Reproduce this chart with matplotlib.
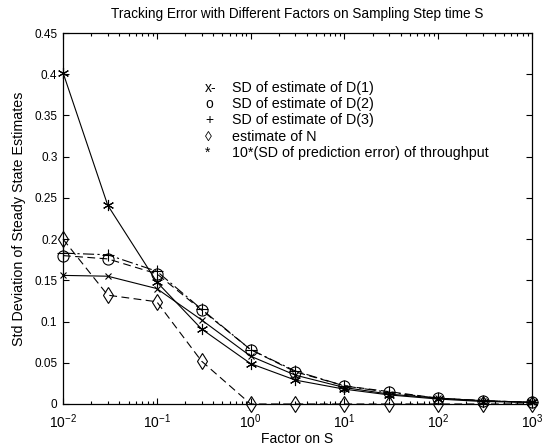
import matplotlib
matplotlib.use("Agg")
import matplotlib.pyplot as plt
from matplotlib.ticker import FixedLocator, LogLocator, NullFormatter

plt.rcParams['font.family'] = ['Liberation Sans', 'DejaVu Sans']
plt.rcParams['mathtext.fontset'] = 'custom'
plt.rcParams['mathtext.rm'] = 'Liberation Sans'
plt.rcParams['mathtext.it'] = 'Liberation Sans'
plt.rcParams['mathtext.bf'] = 'Liberation Sans'

factors = [0.01, 0.03, 0.1, 0.3, 1, 3, 10, 30, 100, 300, 1000]
sd_d1 = [0.156, 0.155, 0.140, 0.102, 0.058, 0.035, 0.020, 0.012, 0.007, 0.004, 0.002]
sd_d2 = [0.180, 0.176, 0.158, 0.114, 0.066, 0.039, 0.022, 0.015, 0.007, 0.004, 0.002]
sd_d3 = [0.183, 0.181, 0.161, 0.115, 0.066, 0.040, 0.022, 0.014, 0.007, 0.004, 0.002]
est_n = [0.200, 0.132, 0.124, 0.052, 0.0, 0.0, 0.0, 0.0, 0.0, 0.0, 0.0]
sd_thr = [0.402, 0.241, 0.148, 0.091, 0.049, 0.029, 0.018, 0.011, 0.006, 0.003, 0.002]

legend_markers = ['x-', 'o', '+', '\u25ca', '*']
legend_texts = ['SD of estimate of D(1)', 'SD of estimate of D(2)', 'SD of estimate of D(3)',
                'estimate of N', '10*(SD of prediction error) of throughput']

fig = plt.figure(figsize=(5.46, 4.47), dpi=100)
ax = fig.add_axes([63/546, 1-404/447, (532-63)/546, (404-33)/447])

kw = dict(color='black', lw=0.8, mfc='none', mec='black', mew=0.8, clip_on=False)
ax.plot(factors, sd_d1, linestyle='-', marker='x', ms=5, **kw)
ax.plot(factors, sd_d2, linestyle=(0, (7, 4)), marker='o', ms=8, **kw)
ax.plot(factors, sd_d3, linestyle=(0, (10, 3, 2, 3)), marker='+', ms=9, **kw)
ax.plot(factors, est_n, linestyle=(0, (7, 4)), marker='d', ms=8, **kw)
ax.plot(factors, sd_thr, linestyle='-', marker=(6, 2, 0), ms=8, **kw)

ax.set_xscale('log')
ax.set_xlim(0.01, 1000)
ax.set_ylim(0, 0.45)
ax.set_yticks([0, 0.05, 0.1, 0.15, 0.2, 0.25, 0.3, 0.35, 0.4, 0.45])
ax.set_yticklabels(['0', '0.05', '0.1', '0.15', '0.2', '0.25', '0.3', '0.35', '0.4', '0.45'])
ax.xaxis.set_major_locator(FixedLocator([0.01, 0.1, 1, 10, 100, 1000]))
ax.set_xticklabels(['$10^{-2}$', '$10^{-1}$', '$10^{0}$', '$10^{1}$', '$10^{2}$', '$10^{3}$'])
ax.xaxis.set_minor_locator(LogLocator(base=10, subs=range(2, 10), numticks=20))
ax.xaxis.set_minor_formatter(NullFormatter())
ax.tick_params(which='both', direction='in', top=True, right=True, width=0.8)
ax.tick_params(axis='y', labelsize=8.5, pad=4)
ax.tick_params(axis='x', labelsize=10, pad=6)
ax.tick_params(which='major', length=4)
ax.tick_params(which='minor', length=2)
for s in ax.spines.values():
    s.set_linewidth(0.9)

ax.set_title('Tracking Error with Different Factors on Sampling Step time S', fontsize=9.8, pad=11)
ax.set_xlabel('Factor on S', fontsize=10, labelpad=1)
ax.set_ylabel('Std Deviation of Steady State Estimates', fontsize=10.3, labelpad=6)

ys = [88, 104, 120, 137, 153]
for m, t, y in zip(legend_markers, legend_texts, ys):
    fy = 1 - (y - 33) / (404 - 33)
    ax.text((205 - 63) / (532 - 63), fy, m, transform=ax.transAxes, fontsize=10,
            va='center', ha='left', family=['Liberation Sans', 'DejaVu Sans'])
    ax.text((232 - 63) / (532 - 63), fy, t, transform=ax.transAxes, fontsize=10.3,
            va='center', ha='left')

fig.savefig('out.png', dpi=100)
